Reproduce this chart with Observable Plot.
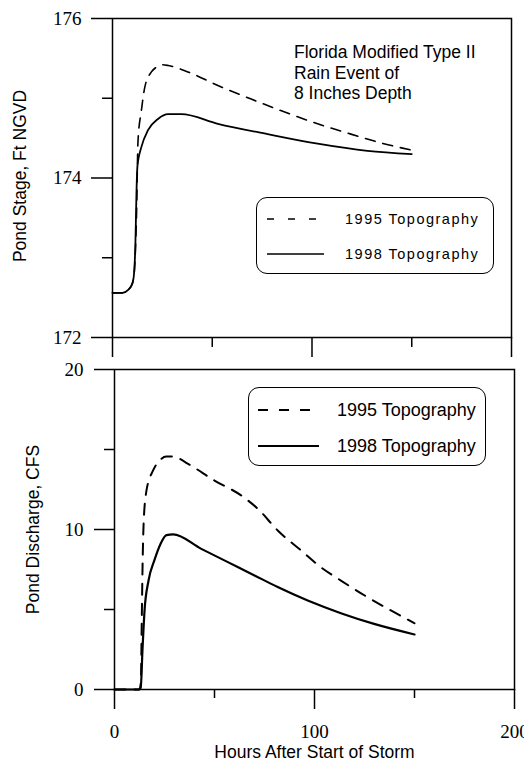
<!DOCTYPE html>
<html>
<head>
<meta charset="utf-8">
<script src="https://cdn.jsdelivr.net/npm/d3@7"></script>
<script src="https://cdn.jsdelivr.net/npm/@observablehq/plot@0.6"></script>
<style>
  html, body { margin: 0; padding: 0; background: #fff; }
  #wrap { position: relative; width: 524px; height: 762px; overflow: hidden; background: #fff; }
  #top, #bottom { position: absolute; left: 0; }
  #top { top: 0; }
  #bottom { top: 355px; }
  .note { position: absolute; font-family: "Liberation Sans", Arial, sans-serif; color: #000; }
  .legend { position: absolute; border: 1.5px solid #000; border-radius: 11px; box-sizing: border-box; background: #fff; }
  .legend svg { position: absolute; left: 0; top: 0; }
</style>
</head>
<body>
<div id="wrap">
  <div id="top"></div>
  <div id="bottom"></div>
</div>
<script>
// ---- Data ----
const seriesNames = ["1995 Topography", "1998 Topography"];

// Pond stage (ft NGVD)
const stageHours1995 = [0, 5, 8, 10, 11, 12, 12.8, 14.5, 16.2, 19.5, 22, 25, 28, 37.8, 52.8, 69.5, 86, 102.8, 119.5, 136, 150];
const stage1995      = [172.56, 172.56, 172.6, 172.68, 172.85, 173.5, 174.47, 174.85, 175.14, 175.33, 175.39, 175.42, 175.41, 175.33, 175.16, 174.99, 174.83, 174.68, 174.55, 174.43, 174.35];
const stageHours1998 = [0, 5, 8, 10, 10.8, 11.5, 12, 12.5, 14.5, 17.8, 22.8, 27.8, 34.5, 52.8, 77.8, 102.8, 127.8, 150];
const stage1998      = [172.56, 172.56, 172.6, 172.68, 172.8, 173.2, 173.8, 174.15, 174.39, 174.6, 174.74, 174.8, 174.8, 174.68, 174.55, 174.43, 174.34, 174.3];

// Pond discharge (CFS)
const flowHours1995 = [0, 12.5, 13.2, 13.6, 14.0, 14.6, 16, 19.3, 22.5, 25.9, 29.3, 36.8, 50, 63.3, 71.7, 81.6, 93.3, 103.2, 113.2, 126.5, 138.2, 150];
const flow1995      = [0, 0, 0.5, 4, 7.5, 10.5, 12.44, 13.69, 14.3, 14.56, 14.56, 14.1, 13.06, 12.13, 11.29, 9.94, 8.69, 7.64, 6.81, 5.77, 4.94, 4.14];
const flowHours1998 = [0, 12, 13.1, 14, 15, 17, 20, 23, 26, 29.3, 43.4, 56.7, 70, 81.6, 96.6, 113.2, 129.8, 150];
const flow1998      = [0, 0, 0.1, 2.5, 4.9, 6.8, 8.1, 9.1, 9.65, 9.69, 8.79, 7.96, 7.13, 6.4, 5.56, 4.77, 4.1, 3.44];

// Axes
const xDomain = [0, 200];
const xMajor = [0, 100, 200];
const xMinor = [50, 150];
const stageDomain = [172, 176];
const stageMajor = [172, 174, 176];
const stageMinor = [173, 175];
const flowDomain = [0, 20];
const flowMajor = [0, 10, 20];
const flowMinor = [5, 15];

const stageLabel = "Pond Stage, Ft NGVD";
const flowLabel = "Pond Discharge, CFS";
const xLabel = "Hours After Start of Storm";
const noteLines = ["Florida Modified Type II", "Rain Event of", "8 Inches Depth"];

// ---- Build tables ----
const toRows = (hours, vals) => hours.map((h, i) => ({h, v: vals[i]}));
const stageA = toRows(stageHours1995, stage1995);
const stageB = toRows(stageHours1998, stage1998);
const flowA = toRows(flowHours1995, flow1995);
const flowB = toRows(flowHours1998, flow1998);

const SERIF = "'Liberation Serif', 'Times New Roman', serif";
const SANS = "'Liberation Sans', Arial, Helvetica, sans-serif";
const TICKFS = 19;
const LABELFS = 17.5;

// ---- Top panel ----
const topPlot = Plot.plot({
  width: 524, height: 355,
  marginLeft: 112, marginRight: 13, marginTop: 18, marginBottom: 18,
  style: {fontFamily: SERIF, fontSize: TICKFS + "px", color: "#000", background: "transparent", overflow: "visible"},
  x: {domain: xDomain},
  y: {domain: stageDomain},
  marks: [
    Plot.frame({stroke: "#000", strokeWidth: 1.5}),
    Plot.axisY({ticks: stageMajor, tickSize: 21, tickPadding: 10, tickFormat: d => String(d), label: null, stroke: "#000", strokeWidth: 1.5, fontSize: TICKFS, fontFamily: SERIF}),
    Plot.axisY({ticks: stageMinor, tickSize: 10, tickFormat: () => "", label: null, stroke: "#000", strokeWidth: 1.5}),
    Plot.axisX({ticks: xMajor, tickSize: 20, tickFormat: () => "", label: null, stroke: "#000", strokeWidth: 1.5}),
    Plot.axisX({ticks: xMinor, tickSize: 10, tickFormat: () => "", label: null, stroke: "#000", strokeWidth: 1.5}),
    Plot.line(stageA, {x: "h", y: "v", curve: "monotone-x", stroke: "#000", strokeWidth: 1.6, strokeDasharray: "10,8"}),
    Plot.line(stageB, {x: "h", y: "v", curve: "monotone-x", stroke: "#000", strokeWidth: 1.8}),
    Plot.text([stageLabel], {text: d => d, frameAnchor: "left", dx: -92, dy: -2, rotate: -90, textAnchor: "middle", lineAnchor: "middle", fontFamily: SANS, fontSize: LABELFS, fill: "#000"})
  ]
});
document.getElementById("top").appendChild(topPlot);

// ---- Bottom panel ----
const bottomPlot = Plot.plot({
  width: 524, height: 407,
  marginLeft: 114, marginRight: 10, marginTop: 14, marginBottom: 73,
  style: {fontFamily: SERIF, fontSize: TICKFS + "px", color: "#000", background: "transparent", overflow: "visible"},
  x: {domain: xDomain},
  y: {domain: flowDomain},
  marks: [
    Plot.frame({stroke: "#000", strokeWidth: 1.5}),
    Plot.axisY({ticks: flowMajor, tickSize: 20, tickPadding: 11, tickFormat: d => String(d), label: null, stroke: "#000", strokeWidth: 1.5, fontSize: TICKFS, fontFamily: SERIF}),
    Plot.axisY({ticks: flowMinor, tickSize: 10, tickFormat: () => "", label: null, stroke: "#000", strokeWidth: 1.5}),
    Plot.axisX({ticks: xMajor, tickSize: 20, tickPadding: 15, tickFormat: d => String(d), label: null, stroke: "#000", strokeWidth: 1.5, fontSize: TICKFS, fontFamily: SERIF}),
    Plot.axisX({ticks: xMinor, tickSize: 9, tickFormat: () => "", label: null, stroke: "#000", strokeWidth: 1.5}),
    Plot.line(flowA, {x: "h", y: "v", curve: "monotone-x", stroke: "#000", strokeWidth: 2, strokeDasharray: "11,9"}),
    Plot.line(flowB, {x: "h", y: "v", curve: "monotone-x", stroke: "#000", strokeWidth: 2.2}),
    Plot.text([flowLabel], {text: d => d, frameAnchor: "left", dx: -81, rotate: -90, textAnchor: "middle", lineAnchor: "middle", fontFamily: SANS, fontSize: LABELFS, fill: "#000"}),
    Plot.text([xLabel], {text: d => d, frameAnchor: "bottom", dy: 63, textAnchor: "middle", lineAnchor: "middle", fontFamily: SANS, fontSize: LABELFS, fill: "#000"})
  ]
});
document.getElementById("bottom").appendChild(bottomPlot);

// ---- Annotation and legends (HTML overlays) ----
const wrap = document.getElementById("wrap");
const note = document.createElement("div");
note.className = "note";
note.style.left = "294px";
note.style.top = "42px";
note.style.fontSize = "17.5px";
note.style.lineHeight = "20.5px";
note.innerHTML = noteLines.map(s => `<div>${s}</div>`).join("");
wrap.appendChild(note);

function legend(box, opts) {
  const d = document.createElement("div");
  d.className = "legend";
  Object.assign(d.style, {left: box.x + "px", top: box.y + "px", width: box.w + "px", height: box.h + "px"});
  const svg = d3.create("svg").attr("width", box.w).attr("height", box.h).style("overflow", "visible");
  seriesNames.forEach((name, i) => {
    const y = opts.rows[i];
    svg.append("line").attr("x1", opts.lx1).attr("x2", i === 0 ? opts.lx2a : opts.lx2b).attr("y1", y).attr("y2", y)
      .attr("stroke", "#000").attr("stroke-width", opts.sw)
      .attr("stroke-dasharray", i === 0 ? opts.dash : null);
    svg.append("text").attr("x", opts.tx).attr("y", y).attr("dy", "0.35em")
      .attr("font-family", SANS).attr("font-size", opts.fs)
      .attr("letter-spacing", opts.ls).text(name);
  });
  d.appendChild(svg.node());
  wrap.appendChild(d);
}

legend({x: 256, y: 197, w: 238, h: 77},
  {rows: [21, 56], lx1: 10, lx2a: 62, lx2b: 67, tx: 88, fs: 14.5, ls: "1.5px", sw: 1.5, dash: "7,14"});
legend({x: 248, y: 387, w: 238, h: 79},
  {rows: [22, 58], lx1: 9, lx2a: 65, lx2b: 70, tx: 88, fs: 18, ls: "0px", sw: 2.2, dash: "10,11"});
</script>
</body>
</html>
